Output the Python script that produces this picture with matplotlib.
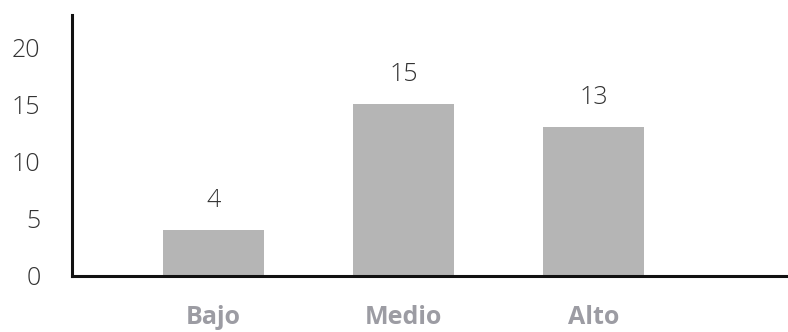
import matplotlib
matplotlib.use("Agg")
import matplotlib.pyplot as plt

categories = ["Bajo", "Medio", "Alto"]
values = [4, 15, 13]
yticks = [0, 5, 10, 15, 20]

fig = plt.figure(figsize=(7.88, 3.32), dpi=100)
ax = fig.add_axes([0.0918, 0.1687, 1.0 - 0.0918, 0.9548 - 0.1687])

x = list(range(len(categories)))
ax.bar(x, values, width=0.53, color="#b5b5b5", zorder=2)

ax.set_xlim(-0.74, 3.02)
ax.set_ylim(0, 22.8)
ax.set_yticks(yticks)
ax.set_yticklabels([str(t) for t in yticks], family=["Open Sans", "DejaVu Sans"],
                   fontweight="light", fontsize=18, color="#333333")
ax.set_xticks(x)
ax.set_xticklabels(categories, family=["Open Sans", "DejaVu Sans"],
                   fontweight="bold", fontsize=18, color="#9c9ca3")
ax.tick_params(axis="y", length=0, pad=23)
ax.tick_params(axis="x", length=0, pad=21)

for s in ["top", "right"]:
    ax.spines[s].set_visible(False)
for s in ["left", "bottom"]:
    ax.spines[s].set_linewidth(2.2)
    ax.spines[s].set_color("#111111")
    ax.spines[s].set_zorder(3)

for xi, v in zip(x, values):
    ax.annotate(str(v), (xi, v), xytext=(0, 16.5), textcoords="offset points",
                ha="center", va="baseline", fontsize=18, color="#333333",
                family=["Open Sans", "DejaVu Sans"], fontweight="light")

fig.savefig("out.png", dpi=100)
